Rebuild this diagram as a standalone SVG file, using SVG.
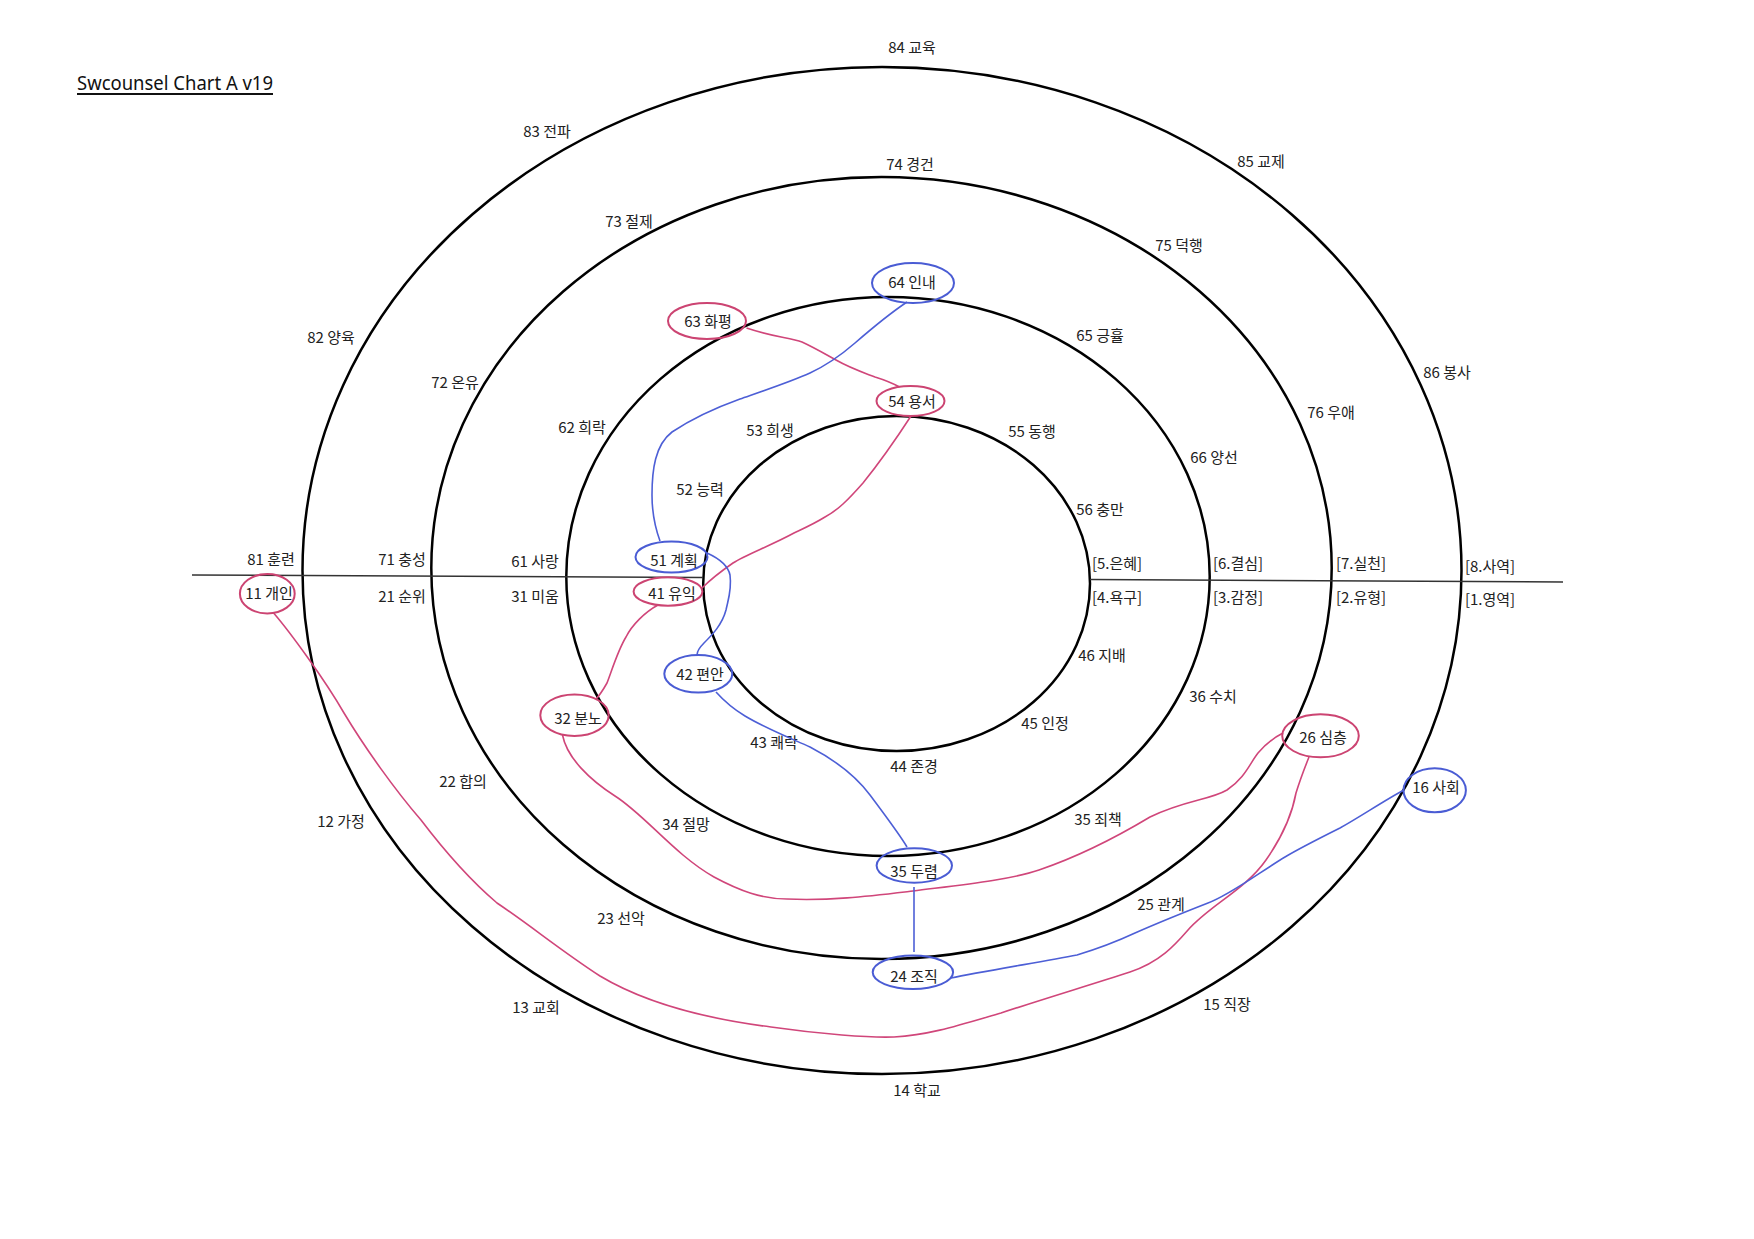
<svg xmlns="http://www.w3.org/2000/svg" width="1754" height="1239" viewBox="0 0 1754 1239">
<style>
.ring{fill:none;stroke:#000;stroke-width:2.5}
.axis{stroke:#333;stroke-width:1.5}
.lbl{font-family:"Noto Sans CJK KR","Noto Sans",sans-serif;font-size:15px;fill:#222;text-anchor:middle}
.title{font-family:"Noto Sans","Liberation Sans",sans-serif;font-size:19px;fill:#111}
.nr{fill:none;stroke:#cc4472;stroke-width:2}
.nb{fill:none;stroke:#4a5cd4;stroke-width:2}
.cr{fill:none;stroke:#d0467a;stroke-width:1.6}
.cb{fill:none;stroke:#4d5fd6;stroke-width:1.6}
</style>
<rect width="1754" height="1239" fill="#fff"/>
<g id="title">
<text class="title" x="77" y="90" textLength="196" lengthAdjust="spacingAndGlyphs">Swcounsel Chart A v19</text>
<line x1="77" y1="94" x2="273" y2="94" stroke="#111" stroke-width="2"/>
</g>
<g id="rings">
<ellipse class="ring" cx="882" cy="570.5" rx="579.5" ry="503.5"/>
<ellipse class="ring" cx="881.5" cy="568" rx="450.2" ry="391"/>
<ellipse class="ring" cx="888" cy="576.5" rx="321.7" ry="279.5"/>
<ellipse class="ring" cx="896.6" cy="583.5" rx="193.4" ry="167.5"/>
<line class="axis" x1="192" y1="575" x2="703" y2="577.6"/>
<line class="axis" x1="1090" y1="579.5" x2="1563" y2="582"/>
</g>
<g id="labels">
<text class="lbl" x="912" y="53">84 교육</text>
<text class="lbl" x="547" y="137">83 전파</text>
<text class="lbl" x="1261" y="167">85 교제</text>
<text class="lbl" x="331" y="343">82 양육</text>
<text class="lbl" x="1447" y="378">86 봉사</text>
<text class="lbl" x="271" y="565">81 훈련</text>
<text class="lbl" x="910" y="170">74 경건</text>
<text class="lbl" x="629" y="227">73 절제</text>
<text class="lbl" x="1179" y="251">75 덕행</text>
<text class="lbl" x="455" y="388">72 온유</text>
<text class="lbl" x="1331" y="418">76 우애</text>
<text class="lbl" x="402" y="565">71 충성</text>
<text class="lbl" x="1100" y="341">65 긍휼</text>
<text class="lbl" x="582" y="433">62 희락</text>
<text class="lbl" x="1214" y="463">66 양선</text>
<text class="lbl" x="535" y="567">61 사랑</text>
<text class="lbl" x="770" y="436">53 희생</text>
<text class="lbl" x="1032" y="437">55 동행</text>
<text class="lbl" x="700" y="495">52 능력</text>
<text class="lbl" x="1100" y="515">56 충만</text>
<text class="lbl" x="1117" y="569">[5.은혜]</text>
<text class="lbl" x="1117" y="603">[4.욕구]</text>
<text class="lbl" x="1238" y="569">[6.결심]</text>
<text class="lbl" x="1238" y="603">[3.감정]</text>
<text class="lbl" x="1361" y="569">[7.실천]</text>
<text class="lbl" x="1361" y="603">[2.유형]</text>
<text class="lbl" x="1490" y="572">[8.사역]</text>
<text class="lbl" x="1490" y="605">[1.영역]</text>
<text class="lbl" x="402" y="602">21 순위</text>
<text class="lbl" x="535" y="602">31 미움</text>
<text class="lbl" x="1102" y="661">46 지배</text>
<text class="lbl" x="1045" y="729">45 인정</text>
<text class="lbl" x="774" y="748">43 쾌락</text>
<text class="lbl" x="914" y="772">44 존경</text>
<text class="lbl" x="686" y="830">34 절망</text>
<text class="lbl" x="1098" y="825">35 죄책</text>
<text class="lbl" x="1213" y="702">36 수치</text>
<text class="lbl" x="463" y="787">22 합의</text>
<text class="lbl" x="341" y="827">12 가정</text>
<text class="lbl" x="621" y="924">23 선악</text>
<text class="lbl" x="1161" y="910">25 관계</text>
<text class="lbl" x="536" y="1013">13 교회</text>
<text class="lbl" x="1227" y="1010">15 직장</text>
<text class="lbl" x="917" y="1096">14 학교</text>
</g>
<g id="connectors">
<path class="cr" d="M746.5,328 C770,336 790,338 802,342 C815,348 825,354 836,360 C850,368 862,372 875,377 C888,381 894,384 899.5,387"/>
<path class="cr" d="M911,416 C898,436 880,462 863,483 C848,500 838,510 825,517 C812,525 800,530 794,533 C770,546 745,555 733,563 C720,572 710,580 702,588"/>
<path class="cr" d="M658,605 C645,612 632,625 626,637 C618,650 612,670 607,683 C603,690 600,695 596,699"/>
<path class="cr" d="M562.5,735 C567,758 590,780 615,796 C645,815 675,855 714,877 C740,891 762,899 787,899 C830,901 870,896 913,891 C960,885 1010,880 1039,870 C1080,856 1120,835 1150,817 C1185,800 1210,800 1227,790 C1245,778 1250,763 1258,753 C1265,745 1275,737 1283,733"/>
<path class="cr" d="M273.6,613 C290,632 325,680 344,713 C365,748 395,790 421,820 C440,845 470,880 497,903 C530,925 560,950 600,976 C640,1000 700,1018 771,1027 C820,1034 870,1038 894,1037 C930,1035 960,1025 1001,1013 C1040,1000 1090,985 1130,972 C1160,962 1175,945 1188,930 C1210,905 1245,890 1266,860 C1280,840 1292,815 1296,793 C1300,780 1305,767 1309,757"/>
<path class="cb" d="M907,302 C895,310 870,330 855,343 C840,356 825,366 810,373 C790,382 760,392 740,399 C715,408 690,420 672,432 C655,445 652,470 652,495 C652,515 656,530 660,541"/>
<path class="cb" d="M707,553 C718,558 728,565 730,575 C732,590 728,600 726,610 C722,625 712,635 704,643 C699,648 697,652 697,655"/>
<path class="cb" d="M716,692 C725,702 735,710 745,716 C765,728 790,738 810,747 C835,760 855,775 870,795 C885,815 900,835 907,847"/>
<path class="cb" d="M914,887 L914,952"/>
<path class="cb" d="M951,978 C980,972 1040,962 1077,955 C1100,948 1120,940 1135,933 C1160,922 1185,912 1208,903 C1230,895 1260,872 1285,857 C1300,848 1320,838 1340,828 C1360,817 1385,800 1404,790"/>
</g>
<g id="n64"><ellipse class="nb" cx="913" cy="283" rx="41" ry="20"/><text class="lbl" x="912" y="288">64 인내</text></g>
<g id="n63"><ellipse class="nr" cx="707" cy="321" rx="39" ry="18"/><text class="lbl" x="708" y="327">63 화평</text></g>
<g id="n54"><ellipse class="nr" cx="910.5" cy="401" rx="34" ry="15"/><text class="lbl" x="912" y="407">54 용서</text></g>
<g id="n51"><ellipse class="nb" cx="671.5" cy="557" rx="36" ry="15.5"/><text class="lbl" x="674" y="566">51 계획</text></g>
<g id="n41"><ellipse class="nr" cx="668" cy="591.5" rx="34.4" ry="14.2"/><text class="lbl" x="672" y="599">41 유익</text></g>
<g id="n11"><ellipse class="nr" cx="267.3" cy="593.7" rx="27.4" ry="19.7"/><text class="lbl" x="269" y="599">11 개인</text></g>
<g id="n42"><ellipse class="nb" cx="698.3" cy="673.8" rx="34" ry="18.8"/><text class="lbl" x="700" y="680">42 편안</text></g>
<g id="n32"><ellipse class="nr" cx="574.5" cy="715.2" rx="34.2" ry="20.8"/><text class="lbl" x="578" y="724">32 분노</text></g>
<g id="n26"><ellipse class="nr" cx="1320.5" cy="735.8" rx="38.3" ry="21.5"/><text class="lbl" x="1323" y="743">26 심층</text></g>
<g id="n16"><ellipse class="nb" cx="1434.7" cy="790.3" rx="31.2" ry="22"/><text class="lbl" x="1436" y="793">16 사회</text></g>
<g id="n35"><ellipse class="nb" cx="914.3" cy="865.5" rx="37.7" ry="17.2"/><text class="lbl" x="914" y="877">35 두렴</text></g>
<g id="n24"><ellipse class="nb" cx="912.9" cy="972.3" rx="40.2" ry="16.7"/><text class="lbl" x="914" y="982">24 조직</text></g>
</svg>
